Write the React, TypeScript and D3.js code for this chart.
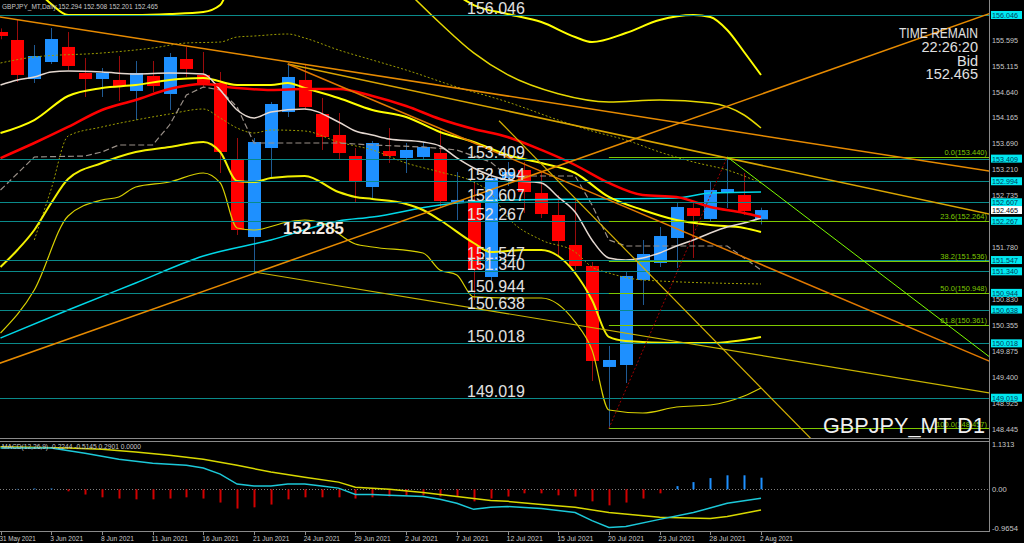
import React from 'react';
import * as d3 from 'd3';

// ---------- DATA ----------
const tickBars = [0, 3, 6, 9, 12, 15, 18, 21, 24, 27, 30, 33, 36, 39, 42, 45];
const tickLabels = ['31 May 2021', '3 Jun 2021', '8 Jun 2021', '11 Jun 2021', '16 Jun 2021', '21 Jun 2021', '24 Jun 2021', '29 Jun 2021', '2 Jul 2021', '7 Jul 2021', '12 Jul 2021', '15 Jul 2021', '20 Jul 2021', '23 Jul 2021', '28 Jul 2021', '2 Aug 2021'];

const open = [155.734, 155.587, 154.871, 155.183, 155.459, 154.981, 154.871, 154.853, 154.651, 154.926, 154.596, 155.238, 154.945, 154.798, 153.384, 151.970, 153.604, 154.265, 154.853, 154.228, 153.843, 153.457, 152.888, 153.549, 153.421, 153.439, 153.512, 152.595, 152.650, 151.236, 153.053, 153.200, 152.778, 152.374, 151.823, 151.438, 149.584, 149.620, 151.181, 151.493, 151.952, 152.503, 152.301, 152.796, 152.741, 152.294];
const high = [155.800, 155.954, 155.495, 155.807, 155.734, 155.257, 155.073, 155.293, 155.202, 155.202, 155.348, 155.459, 155.367, 155.000, 153.788, 153.788, 154.449, 155.146, 155.128, 154.522, 154.247, 153.604, 153.733, 153.971, 153.696, 153.714, 153.971, 153.163, 152.980, 153.237, 153.347, 153.347, 153.163, 152.741, 152.650, 151.511, 149.969, 151.328, 151.915, 152.153, 152.613, 152.613, 152.980, 153.440, 153.145, 152.508];
const low = [155.600, 154.816, 154.798, 155.146, 155.036, 154.541, 154.541, 154.467, 154.118, 154.632, 154.302, 154.908, 154.706, 153.145, 152.007, 151.328, 153.072, 154.173, 154.302, 153.568, 153.384, 152.613, 152.686, 153.329, 153.145, 153.384, 152.521, 152.282, 150.814, 151.144, 152.906, 152.411, 152.319, 151.603, 151.365, 149.327, 148.457, 149.290, 150.722, 151.419, 151.401, 151.585, 152.245, 152.503, 152.374, 152.201];
const close = [155.661, 154.945, 155.293, 155.605, 155.110, 154.871, 154.981, 154.742, 154.981, 154.742, 155.275, 155.055, 154.798, 153.531, 152.099, 153.714, 154.412, 154.908, 154.357, 153.806, 153.512, 152.998, 153.696, 153.457, 153.568, 153.623, 152.631, 152.650, 151.365, 153.053, 153.163, 152.796, 152.392, 151.897, 151.438, 149.694, 149.712, 151.254, 151.658, 151.988, 152.521, 152.356, 152.833, 152.851, 152.448, 152.465];

// indicator lines: [bar, price]
const maRed: [number, number][] = [[0, 153.420], [2, 153.696], [4, 153.990], [6, 154.302], [8, 154.485], [10, 154.687], [12, 154.779], [14, 154.706], [16, 154.669], [18, 154.687], [20, 154.687], [22, 154.559], [24, 154.375], [26, 154.137], [28, 153.953], [30, 153.806], [32, 153.568], [34, 153.292], [36, 152.962], [38, 152.741], [40, 152.705], [42, 152.521], [44, 152.411], [45, 152.338]];
const maWhite: [number, number][] = [[0, 154.761], [1, 154.853], [2, 154.908], [3, 155.000], [4, 155.018], [6, 155.000], [8, 154.963], [10, 154.981], [12, 154.963], [13, 154.669], [14, 154.302], [15, 154.155], [16, 154.265], [18, 154.320], [20, 154.082], [21, 153.916], [22, 153.843], [23, 153.769], [25, 153.714], [26, 153.641], [27, 153.421], [28, 153.237], [30, 153.017], [32, 152.962], [33, 152.705], [34, 152.429], [35, 151.915], [36, 151.585], [37, 151.548], [38, 151.585], [39, 151.677], [40, 151.805], [41, 151.915], [42, 152.044], [43, 152.154], [44, 152.227], [45, 152.319]];
const kijun: [number, number][] = [[0, 152.833], [2, 153.439], [5, 153.457], [6, 153.531], [7, 153.659], [9, 153.659], [10, 154.026], [11, 154.577], [12, 154.724], [13, 154.669], [14, 154.357], [15, 153.696], [20, 153.696], [22, 153.659], [25, 153.623], [27, 153.568], [29, 153.347], [30, 153.090], [34, 153.090], [35, 152.558], [36, 151.915], [37, 151.805], [43, 151.805], [44, 151.585], [45, 151.365]];
const dotUpper: [number, number][] = [[0, 155.165], [2, 155.275], [6, 155.348], [9, 155.440], [11, 155.532], [13, 155.550], [14, 155.642], [15, 155.660], [17, 155.697], [18, 155.624], [20, 155.404], [22, 155.220], [24, 155.036], [27, 154.724], [30, 154.449], [33, 154.118], [35, 153.916], [37, 153.751], [39, 153.531], [41, 153.347], [43, 153.200], [45, 152.962]];
const dotLower: [number, number][] = [[2, 151.915], [3, 152.851], [4, 153.824], [6, 153.990], [8, 154.118], [10, 154.228], [12, 154.320], [13, 154.155], [14, 153.971], [15, 153.880], [16, 153.935], [18, 153.916], [20, 153.714], [22, 153.568], [24, 153.329], [26, 153.164], [28, 152.980], [29, 152.778], [30, 152.337], [32, 151.915], [34, 151.695], [35, 151.419], [36, 151.309], [38, 151.181], [45, 151.108]];
const maCyan: [number, number][] = [[0, 150.116], [4, 150.630], [8, 151.126], [12, 151.621], [16, 151.915], [20, 152.264], [22, 152.337], [26, 152.558], [30, 152.650], [35, 152.668], [40, 152.686], [42, 152.778], [45, 152.796]];
const bandOuter: [number, number][] = [[2, 156.550], [3, 156.248], [4, 156.046], [6, 156.046], [8, 156.046], [10, 156.064], [12, 156.101], [13, 156.229], [14, 156.870], [20, 157.300], [26, 156.600], [27, 156.413], [28, 156.229], [30, 156.064], [32, 155.917], [34, 155.642], [35, 155.550], [37, 155.715], [39, 155.954], [41, 156.046], [42, 156.009], [43, 155.771], [44, 155.367], [45, 154.944]];
const bandSecond: [number, number][] = [[24, 156.500], [26, 155.900], [28, 155.350], [30, 154.950], [33, 154.600], [36, 154.450], [39, 154.485], [42, 154.430], [44, 154.210], [45, 153.971]];
const bandUpperThick: [number, number][] = [[0, 153.880], [2, 154.118], [4, 154.559], [6, 154.706], [8, 154.761], [10, 154.853], [12, 154.889], [14, 154.761], [16, 154.761], [17, 154.798], [18, 154.706], [20, 154.522], [22, 154.302], [24, 154.173], [26, 153.898], [28, 153.714], [30, 153.476], [32, 153.329], [34, 153.145], [36, 152.705], [38, 152.466], [40, 152.282], [42, 152.191], [44, 152.136], [45, 152.063]];
const bandLowerThick: [number, number][] = [[0, 151.420], [1, 151.732], [2, 152.099], [3, 152.594], [4, 153.035], [6, 153.329], [8, 153.531], [10, 153.623], [12, 153.714], [13, 153.531], [14, 153.000], [15, 152.980], [16, 153.053], [18, 153.090], [20, 152.796], [21, 152.705], [22, 152.668], [24, 152.576], [25, 152.466], [26, 152.282], [28, 151.860], [29, 151.695], [31, 151.732], [32, 151.732], [33, 151.621], [34, 151.309], [35, 150.814], [36, 150.135], [37, 150.061], [40, 150.024], [42, 150.024], [45, 150.135]];
const bandLowerThin: [number, number][] = [[0, 150.208], [2, 150.997], [4, 152.356], [6, 152.650], [7, 152.705], [8, 152.888], [10, 152.980], [12, 153.145], [13, 152.962], [14, 152.136], [15, 152.099], [17, 152.246], [18, 152.282], [19, 152.227], [21, 151.842], [22, 151.787], [25, 151.677], [26, 151.365], [27, 151.273], [28, 150.869], [30, 150.850], [32, 150.850], [34, 150.410], [35, 149.896], [36, 148.794], [38, 148.739], [40, 148.849], [42, 148.886], [44, 149.051], [45, 149.198]];

// trend lines: anchors [bar, price], [bar, price], start bar
const trendA: [number, number][] = [[0, 149.657], [0, 156.009], [17, 155.146], [17, 155.146], [32, 153.314], [15, 151.328], [43, 153.440]];
const trendB: [number, number][] = [[28, 152.727], [45, 153.834], [45, 153.288], [45, 151.467], [45, 149.202], [45, 149.797], [45, 152.967]];
const trendStart = [-1, -1, 17, 17, 29.5, 15, 43];

// horizontal levels
const levels = [156.046, 153.409, 152.994, 152.607, 152.267, 151.547, 151.340, 150.944, 150.638, 150.018, 149.019];

// fibonacci
const fibPct = ['0.0', '23.6', '38.2', '50.0', '61.8', '100.0'];
const fibPrice = [153.440, 152.264, 151.536, 150.948, 150.361, 148.457];
const fibAnchorLow: [number, number] = [36, 148.457];
const fibAnchorHigh: [number, number] = [43, 153.440];

// right axis ticks
const axisTicks = [155.595, 155.115, 154.640, 154.165, 153.690, 153.210, 152.735, 151.780, 150.830, 150.355, 149.875, 149.400, 148.925, 148.445];
const bidPrice = 152.465;

// MACD
const macdMain: [number, number][] = [[0, 1.03], [3, 1.03], [5, 0.90], [7, 0.75], [9, 0.65], [11, 0.60], [12, 0.53], [13, 0.38], [14, 0.13], [15, 0.08], [16, 0.08], [17, 0.13], [18, 0.13], [19, 0.08], [20, 0.03], [21, -0.13], [22, -0.13], [23, -0.15], [25, -0.18], [26, -0.25], [27, -0.35], [28, -0.50], [29, -0.45], [30, -0.43], [32, -0.48], [34, -0.58], [35, -0.78], [36, -0.95], [37, -0.93], [39, -0.75], [41, -0.58], [43, -0.35], [45, -0.2244]];
const macdSignal: [number, number][] = [[0, 1.06], [4, 1.03], [6, 1.00], [8, 0.93], [10, 0.85], [12, 0.75], [14, 0.60], [16, 0.43], [18, 0.30], [20, 0.18], [21, 0.05], [23, 0.00], [25, -0.08], [27, -0.18], [29, -0.28], [30, -0.30], [32, -0.38], [34, -0.45], [36, -0.58], [39, -0.70], [42, -0.73], [43, -0.68], [45, -0.5145]];
const macdHist = [0, 0.01, 0.02, 0.02, -0.05, -0.13, -0.20, -0.23, -0.25, -0.25, -0.23, -0.20, -0.23, -0.33, -0.48, -0.45, -0.38, -0.25, -0.20, -0.20, -0.20, -0.23, -0.20, -0.18, -0.15, -0.15, -0.18, -0.18, -0.30, -0.23, -0.18, -0.10, -0.10, -0.15, -0.18, -0.30, -0.40, -0.33, -0.23, -0.10, 0.08, 0.18, 0.28, 0.35, 0.35, 0.2901];
const macdTicks = [1.1313, 0.0, -0.9654];
const macdTickLabels = ['1.1313', '0.00', '-0.9654'];

// ---------- STYLE ----------
const FONT = 'Liberation Sans, Arial, sans-serif';
const trendStyle = [
  { c: '#e68a00', w: 1.5 },
  { c: '#e68a00', w: 1.5 },
  { c: '#d9a400', w: 1.5 },
  { c: '#e07800', w: 1.5 },
  { c: '#d4b000', w: 1.2 },
  { c: '#c8b400', w: 1.2 },
  { c: '#7cfc00', w: 1 },
];

export default function App() {
  const W = 1024, H = 543;
  const PR = 989; // plot right edge
  const x = d3.scaleLinear().domain([0, 45]).range([0.5, 761]);
  const y = d3.scaleLinear().domain([148.445, 156.046]).range([429, 15]);
  const ym = d3.scaleLinear().domain([-0.9654, 1.1313]).range([528, 444]);
  const smooth = d3.line<[number, number]>().x(d => x(d[0])).y(d => y(d[1])).curve(d3.curveMonotoneX);
  const lin = d3.line<[number, number]>().x(d => x(d[0])).y(d => y(d[1]));
  const mline = d3.line<[number, number]>().x(d => x(d[0])).y(d => ym(d[1]));
  const endBar = x.invert(PR + 2);
  const hy = (p: number) => Math.round(y(p)) + 0.5;

  const ray = (a: [number, number], b: [number, number], s: number) => {
    const k = (b[1] - a[1]) / (b[0] - a[0]);
    const f = (t: number) => a[1] + k * (t - a[0]);
    return `M${x(s)},${y(f(s))}L${x(endBar)},${y(f(endBar))}`;
  };

  return (
    <svg width={W} height={H} style={{ position: 'absolute', left: 0, top: 0, background: '#000' }} fontFamily={FONT}>
      <defs>
        <clipPath id="mainClip"><rect x={0} y={0} width={PR} height={438} /></clipPath>
        <clipPath id="macdClip"><rect x={0} y={441} width={PR} height={90} /></clipPath>
      </defs>
      <rect x={0} y={0} width={W} height={H} fill="#000" />

      <g clipPath="url(#mainClip)">
        {/* candles */}
        {open.map((o, i) => {
          const c = close[i];
          const up = c >= o;
          const top = y(Math.max(o, c));
          const bot = y(Math.min(o, c));
          const cx = Math.round(x(i));
          return (
            <g key={'c' + i}>
              <line x1={cx + 0.5} x2={cx + 0.5} y1={y(high[i])} y2={y(low[i])} stroke={up ? '#1f5a94' : '#9a0c0c'} strokeWidth={1} />
              <rect x={cx - 6} y={top} width={13} height={Math.max(1, bot - top)} fill={up ? '#1e90ff' : '#ff0000'} />
            </g>
          );
        })}

        {/* indicator lines */}
        <path d={smooth(bandOuter)!} fill="none" stroke="#ffff00" strokeWidth={2} />
        <path d={smooth(bandSecond)!} fill="none" stroke="#e6d800" strokeWidth={1.5} />
        <path d={smooth(dotUpper)!} fill="none" stroke="#9c9c00" strokeWidth={1} strokeDasharray="2,2" />
        <path d={smooth(dotLower)!} fill="none" stroke="#9c9c00" strokeWidth={1} strokeDasharray="2,2" />
        <path d={lin(kijun)!} fill="none" stroke="#9a9088" strokeWidth={1.2} strokeDasharray="6,3" />
        <path d={smooth(maCyan)!} fill="none" stroke="#00d8e8" strokeWidth={1.5} />
        <path d={smooth(bandUpperThick)!} fill="none" stroke="#ffff00" strokeWidth={2} />
        <path d={smooth(bandLowerThick)!} fill="none" stroke="#f2f000" strokeWidth={2} />
        <path d={smooth(bandLowerThin)!} fill="none" stroke="#d8d000" strokeWidth={1.2} />
        <path d={smooth(maWhite)!} fill="none" stroke="#e4d8d0" strokeWidth={1.5} />
        <path d={smooth(maRed)!} fill="none" stroke="#ff0000" strokeWidth={2.5} />

        {/* horizontal levels */}
        {levels.map((p, i) => (
          <line key={'lv' + i} x1={0} x2={PR} y1={hy(p)} y2={hy(p)} stroke="#0a8a8a" strokeWidth={1} />
        ))}

        {/* fibonacci */}
        {fibPrice.map((p, i) => (
          <line key={'fb' + i} x1={x(fibAnchorLow[0])} x2={PR} y1={hy(p)} y2={hy(p)} stroke="#7ec800" strokeWidth={1} />
        ))}
        <line x1={x(fibAnchorLow[0])} y1={y(fibAnchorLow[1])} x2={x(fibAnchorHigh[0])} y2={y(fibAnchorHigh[1])} stroke="#a00000" strokeWidth={1} strokeDasharray="2,2" />

        {/* trend lines */}
        {trendA.map((a, i) => (
          <path key={'tr' + i} d={ray(a, trendB[i], trendStart[i])} fill="none" stroke={trendStyle[i].c} strokeWidth={trendStyle[i].w} />
        ))}

        {/* level labels */}
        {levels.map((p, i) => (
          <text key={'lt' + i} x={467} y={y(p) - 1} fontSize={16} fill="#e2e2e2">{p.toFixed(3)}</text>
        ))}
        <text x={283} y={234} fontSize={16} fontWeight="bold" fill="#f4ece4" textLength={61} lengthAdjust="spacingAndGlyphs">152.285</text>

        {fibPrice.map((p, i) => (
          <text key={'ft' + i} x={987} y={y(p) - 1.5} fontSize={7.5} fill="#7ec800" textAnchor="end">{`${fibPct[i]}(${p.toFixed(3)})`}</text>
        ))}

        {/* info texts */}
        <text x={2} y={9} fontSize={8} fill="#c8c8c8" textLength={156} lengthAdjust="spacingAndGlyphs">GBPJPY_MT,Daily 152.294 152.508 152.201 152.465</text>
        <text x={978} y={38} fontSize={14.5} fill="#e0e0e0" textAnchor="end" textLength={79} lengthAdjust="spacingAndGlyphs">TIME REMAIN</text>
        <text x={978} y={52} fontSize={14.5} fill="#e0e0e0" textAnchor="end">22:26:20</text>
        <text x={978} y={66} fontSize={14.5} fill="#e0e0e0" textAnchor="end">Bid</text>
        <text x={978} y={79} fontSize={14.5} fill="#e0e0e0" textAnchor="end">{bidPrice.toFixed(3)}</text>
        <text x={823} y={433} fontSize={22} fill="#f0f0f0" textLength={162} lengthAdjust="spacingAndGlyphs">GBPJPY_MT D1</text>
      </g>

      {/* MACD panel */}
      <g clipPath="url(#macdClip)">
        <line x1={0} x2={PR} y1={Math.round(ym(0)) + 0.5} y2={Math.round(ym(0)) + 0.5} stroke="#808080" strokeWidth={1} strokeDasharray="1,2" />
        {macdHist.map((v, i) => (
          <line key={'h' + i} x1={Math.round(x(i)) + 0.5} x2={Math.round(x(i)) + 0.5} y1={ym(0)} y2={ym(v)} stroke={v >= 0 ? '#1e90ff' : '#d00000'} strokeWidth={2} />
        ))}
        <path d={mline(macdSignal)!} fill="none" stroke="#d8d800" strokeWidth={1.5} />
        <path d={mline(macdMain)!} fill="none" stroke="#1cc8d8" strokeWidth={1.5} />
        <text x={2} y={449} fontSize={7.5} fill="#c8c8c8" textLength={139} lengthAdjust="spacingAndGlyphs">MACD(12,26,9) -0.2244 -0.5145 0.2901 0.0000</text>
      </g>

      {/* frame */}
      <line x1={0} x2={PR} y1={438.5} y2={438.5} stroke="#8a8a8a" strokeWidth={1} />
      <line x1={0} x2={PR} y1={441.5} y2={441.5} stroke="#8a8a8a" strokeWidth={1} />
      <line x1={0} x2={PR} y1={531.5} y2={531.5} stroke="#8a8a8a" strokeWidth={1} />
      <line x1={PR + 0.5} x2={PR + 0.5} y1={0} y2={532} stroke="#8a8a8a" strokeWidth={1} />

      {/* right axis */}
      {axisTicks.map((p, i) => (
        <text key={'ax' + i} x={992} y={y(p) + 3} fontSize={8} fill="#c8c8c8" textLength={26} lengthAdjust="spacingAndGlyphs">{p.toFixed(3)}</text>
      ))}
      {levels.map((p, i) => (
        <g key={'bx' + i}>
          <rect x={991} y={y(p) - 4} width={31} height={8} fill="#00e8f0" />
          <text x={992} y={y(p) + 3} fontSize={8} fill="#003a5a" textLength={26} lengthAdjust="spacingAndGlyphs">{p.toFixed(3)}</text>
        </g>
      ))}
      <rect x={991} y={y(bidPrice) - 4} width={31} height={8} fill="#ffffff" />
      <text x={992} y={y(bidPrice) + 3} fontSize={8} fill="#000" textLength={26} lengthAdjust="spacingAndGlyphs">{bidPrice.toFixed(3)}</text>

      {macdTicks.map((v, i) => (
        <text key={'mt' + i} x={992} y={ym(v) + 3} fontSize={8} fill="#c8c8c8" textLength={macdTickLabels[i].length * 3.7} lengthAdjust="spacingAndGlyphs">{macdTickLabels[i]}</text>
      ))}

      {/* time axis */}
      {tickBars.map((b, i) => (
        <g key={'tx' + i}>
          <line x1={Math.round(x(b)) + 0.5} x2={Math.round(x(b)) + 0.5} y1={532} y2={535} stroke="#8a8a8a" />
          <text x={x(b) - 1} y={541} fontSize={8} fill="#c8c8c8" textLength={tickLabels[i].length * 3.3} lengthAdjust="spacingAndGlyphs">{tickLabels[i]}</text>
        </g>
      ))}
    </svg>
  );
}
